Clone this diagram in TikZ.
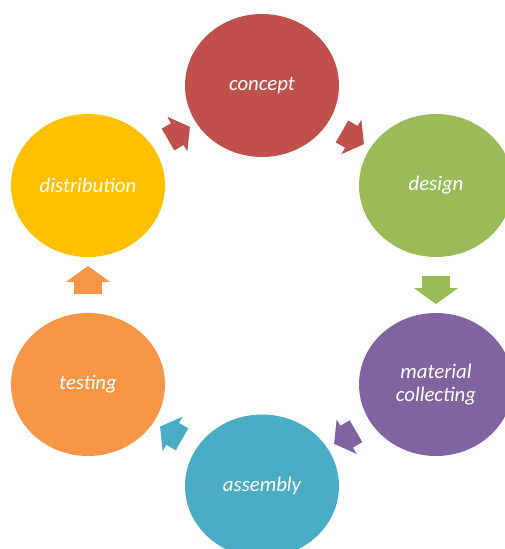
\documentclass[tikz,border=0pt]{standalone}
\usepackage{fontspec}
\setmainfont{Carlito}
\usetikzlibrary{shapes.geometric,shapes.arrows,calc}

\definecolor{conceptred}{RGB}{192,80,77}
\definecolor{designgreen}{RGB}{155,187,89}
\definecolor{materialpurple}{RGB}{128,100,162}
\definecolor{assemblyteal}{RGB}{75,172,198}
\definecolor{testingorange}{RGB}{247,150,70}
\definecolor{distributiongold}{RGB}{255,192,0}

\tikzset{every picture/.style={line width=0.75pt}}
\tikzset{
  stage/.style={ellipse, draw=none, minimum width=115.5pt, minimum height=107.25pt, inner sep=0pt,
    text=white, align=center, font=\fontsize{15.6}{17.25}\selectfont\itshape},
  cyclearrow/.style={single arrow, draw=none, minimum height=21pt, minimum width=33pt,
    inner xsep=0pt, inner ysep=10pt, single arrow head extend=6pt, single arrow tip angle=108},
  diagarrow/.style={cyclearrow, minimum height=19pt, minimum width=30pt, inner ysep=9pt,
    single arrow head extend=5.5pt}
}

\begin{document}
\begin{tikzpicture}[x=0.75pt,y=0.75pt,yscale=-1,xscale=1]
\useasboundingbox (0,0) rectangle (504,549); %set diagram to 504 x 549

% Circles
\node [stage, fill=conceptred] (concept) at (262,85.5) {concept};
\node [stage, fill=designgreen] (design) at (436,185.5) {design};
\node [stage, fill=materialpurple] (material) at (436,384.5) {material\\collecting};
\node [stage, fill=assemblyteal] (assembly) at (262,486) {assembly};
\node [stage, fill=testingorange] (testing) at (88,384.5) {testing};
\node [stage, fill=distributiongold] (distribution) at (88,185.5) {distribution};

% Arrows
\node [diagarrow, fill=conceptred, rotate=-30] (toDesign) at ($(concept)!0.5!(design)$) {};
\node [cyclearrow, fill=designgreen, rotate=-90] (toMaterial) at ($(design)!0.5!(material)$) {};
\node [diagarrow, fill=materialpurple, rotate=-150] (toAssembly) at ($(material)!0.5!(assembly)$) {};
\node [diagarrow, fill=assemblyteal, rotate=150] (toTesting) at ($(assembly)!0.5!(testing)$) {};
\node [cyclearrow, fill=testingorange, rotate=90] (toDistribution) at ($(testing)!0.5!(distribution)$) {};
\node [diagarrow, fill=conceptred, rotate=30] (toConcept) at ($(distribution)!0.5!(concept)$) {};

\end{tikzpicture}
\end{document}
